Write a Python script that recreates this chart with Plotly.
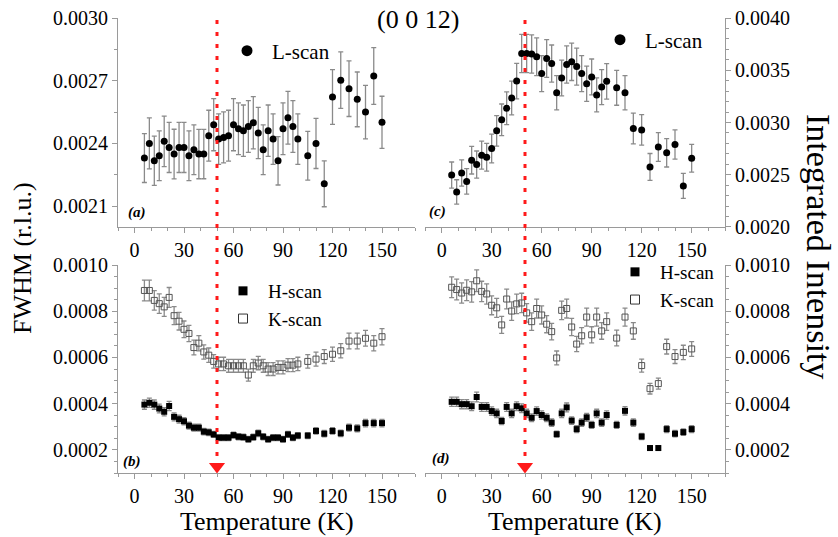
import plotly.graph_objects as go

# ---------------- data ----------------
T = [6, 9, 12, 15, 18, 21, 24, 27, 30, 33, 36, 39, 42, 45, 48, 51, 54, 57, 60, 63, 66,
     69, 72, 75, 78, 81, 84, 87, 90, 93, 96, 99, 105, 110, 115, 120, 125, 130, 135, 140, 145, 150]

fwhm_L = [0.002330, 0.002400, 0.002317, 0.002341, 0.002410, 0.002381, 0.002349, 0.002381, 0.002381,
          0.002341, 0.002370, 0.002349, 0.002349, 0.002437, 0.002490, 0.002421, 0.002429, 0.002437,
          0.002490, 0.002470, 0.002461, 0.002481, 0.002499, 0.002450, 0.002370, 0.002461, 0.002421,
          0.002317, 0.002470, 0.002523, 0.002481, 0.002421, 0.002341, 0.002400, 0.002207, 0.002622,
          0.002703, 0.002662, 0.002611, 0.002550, 0.002723, 0.002501]
fwhm_L_err = [0.000117, 0.000122, 0.000118, 0.000119, 0.000121, 0.000120, 0.000119, 0.000120, 0.000120,
              0.000119, 0.000119, 0.000118, 0.000118, 0.000122, 0.000125, 0.000121, 0.000122, 0.000122,
              0.000125, 0.000124, 0.000123, 0.000124, 0.000125, 0.000123, 0.000119, 0.000123, 0.000121,
              0.000116, 0.000124, 0.000126, 0.000124, 0.000121, 0.000117, 0.000120, 0.000110, 0.000131,
              0.000135, 0.000133, 0.000131, 0.000128, 0.000136, 0.000125]

int_L = [0.002497, 0.002335, 0.002516, 0.002436, 0.002639, 0.002597, 0.002687, 0.002668, 0.002751,
         0.002920, 0.003026, 0.003136, 0.003235, 0.003397, 0.003661, 0.003661, 0.003655, 0.003629,
         0.003468, 0.003613, 0.003564, 0.003284, 0.003426, 0.003555, 0.003581, 0.003535, 0.003468,
         0.003371, 0.003436, 0.003264, 0.003339, 0.003394, 0.003332, 0.003284, 0.002942, 0.002929,
         0.002574, 0.002765, 0.002710, 0.002790, 0.002393, 0.002658]
int_L_err = [0.000125, 0.000117, 0.000126, 0.000122, 0.000132, 0.000130, 0.000134, 0.000133, 0.000138,
             0.000146, 0.000151, 0.000157, 0.000162, 0.000170, 0.000183, 0.000183, 0.000183, 0.000181,
             0.000173, 0.000181, 0.000178, 0.000164, 0.000171, 0.000178, 0.000179, 0.000177, 0.000173,
             0.000169, 0.000172, 0.000163, 0.000167, 0.000170, 0.000167, 0.000164, 0.000147, 0.000146,
             0.000129, 0.000138, 0.000136, 0.000140, 0.000120, 0.000133]

fwhm_K = [0.000890, 0.000890, 0.000847, 0.000833, 0.000819, 0.000860, 0.000781, 0.000757, 0.000722,
          0.000704, 0.000643, 0.000662, 0.000624, 0.000610, 0.000583, 0.000572, 0.000572, 0.000564,
          0.000564, 0.000564, 0.000564, 0.000524, 0.000564, 0.000576, 0.000564, 0.000550, 0.000550,
          0.000557, 0.000557, 0.000567, 0.000567, 0.000572, 0.000583, 0.000593, 0.000604, 0.000614,
          0.000629, 0.000671, 0.000671, 0.000683, 0.000662, 0.000690]
fwhm_K_err = [0.000045, 0.000045, 0.000042, 0.000042, 0.000041, 0.000043, 0.000039, 0.000038, 0.000036,
              0.000035, 0.000032, 0.000033, 0.000031, 0.000031, 0.000029, 0.000029, 0.000029, 0.000028,
              0.000028, 0.000028, 0.000028, 0.000026, 0.000028, 0.000029, 0.000028, 0.000028, 0.000028,
              0.000028, 0.000028, 0.000028, 0.000028, 0.000029, 0.000029, 0.000030, 0.000030, 0.000031,
              0.000031, 0.000034, 0.000034, 0.000034, 0.000033, 0.000035]

fwhm_H = [0.000396, 0.000404, 0.000396, 0.000379, 0.000365, 0.000390, 0.000343, 0.000333, 0.000324,
          0.000305, 0.000296, 0.000296, 0.000279, 0.000276, 0.000267, 0.000253, 0.000253, 0.000253,
          0.000264, 0.000257, 0.000255, 0.000246, 0.000255, 0.000272, 0.000257, 0.000246, 0.000253,
          0.000253, 0.000246, 0.000267, 0.000253, 0.000262, 0.000262, 0.000282, 0.000270, 0.000282,
          0.000272, 0.000296, 0.000293, 0.000316, 0.000316, 0.000316]
fwhm_H_err = [0.000020, 0.000020, 0.000020, 0.000019, 0.000018, 0.000020, 0.000017, 0.000017, 0.000016,
              0.000015, 0.000015, 0.000015, 0.000014, 0.000014, 0.000013, 0.000013, 0.000013, 0.000013,
              0.000013, 0.000013, 0.000013, 0.000012, 0.000013, 0.000014, 0.000013, 0.000012, 0.000013,
              0.000013, 0.000012, 0.000013, 0.000013, 0.000013, 0.000013, 0.000014, 0.000014, 0.000014,
              0.000014, 0.000015, 0.000015, 0.000016, 0.000016, 0.000016]

int_K = [0.000904, 0.000894, 0.000879, 0.000891, 0.000884, 0.000932, 0.000886, 0.000875, 0.000826,
         0.000815, 0.000741, 0.000853, 0.000801, 0.000832, 0.000836, 0.000793, 0.000755, 0.000812,
         0.000784, 0.000744, 0.000712, 0.000598, 0.000804, 0.000812, 0.000732, 0.000658, 0.000694,
         0.000775, 0.000698, 0.000775, 0.000715, 0.000755, 0.000684, 0.000775, 0.000715, 0.000565,
         0.000465, 0.000487, 0.000647, 0.000604, 0.000622, 0.000637]
int_K_err = [0.000045, 0.000045, 0.000044, 0.000045, 0.000044, 0.000047, 0.000044, 0.000044, 0.000041,
             0.000041, 0.000037, 0.000043, 0.000040, 0.000042, 0.000042, 0.000040, 0.000038, 0.000041,
             0.000039, 0.000037, 0.000036, 0.000030, 0.000040, 0.000041, 0.000037, 0.000033, 0.000035,
             0.000039, 0.000035, 0.000039, 0.000036, 0.000038, 0.000034, 0.000039, 0.000036, 0.000028,
             0.000023, 0.000024, 0.000032, 0.000030, 0.000031, 0.000032]

int_H = [0.000408, 0.000408, 0.000398, 0.000398, 0.000389, 0.000429, 0.000386, 0.000386, 0.000368,
         0.000358, 0.000325, 0.000386, 0.000358, 0.000389, 0.000380, 0.000358, 0.000339, 0.000368,
         0.000351, 0.000339, 0.000318, 0.000268, 0.000358, 0.000384, 0.000327, 0.000290, 0.000318,
         0.000341, 0.000308, 0.000358, 0.000318, 0.000351, 0.000308, 0.000369, 0.000318, 0.000258,
         0.000208, 0.000208, 0.000290, 0.000270, 0.000277, 0.000290]
int_H_err = [0.000020, 0.000020, 0.000020, 0.000020, 0.000019, 0.000021, 0.000019, 0.000019, 0.000018,
             0.000018, 0.000016, 0.000019, 0.000018, 0.000019, 0.000019, 0.000018, 0.000017, 0.000018,
             0.000018, 0.000017, 0.000016, 0.000013, 0.000018, 0.000019, 0.000016, 0.000015, 0.000016,
             0.000017, 0.000015, 0.000018, 0.000016, 0.000018, 0.000015, 0.000018, 0.000016, 0.000013,
             0.000010, 0.000010, 0.000015, 0.000014, 0.000014, 0.000015]

T_N = 50            # transition temperature marked by red dotted line
ARROW_Y = 0.000128  # arrow head position on lower panels

X_TICKS = [0, 30, 60, 90, 120, 150]

# ---------------- figure ----------------
W, H = 838, 537
FONT = "Liberation Serif"
GREY = "#9a9a9a"
ERRC = "#8a8a8a"
RED = "#ff1a1a"


def px(v):
    return v / W


def py(v):
    return 1 - v / H


def err(arr):
    return dict(type="data", array=arr, color=ERRC, thickness=1.3, width=2.5)


fig = go.Figure()

# (a) FWHM L-scan
fig.add_trace(go.Scatter(x=T, y=fwhm_L, error_y=err(fwhm_L_err), mode="markers",
                         marker=dict(symbol="circle", size=7, color="black"),
                         xaxis="x", yaxis="y", showlegend=False))
fig.add_trace(go.Scatter(x=[None], y=[None], mode="markers", name="L-scan",
                         marker=dict(symbol="circle", size=11, color="black"),
                         xaxis="x", yaxis="y", legend="legend"))
# (c) Intensity L-scan
fig.add_trace(go.Scatter(x=T, y=int_L, error_y=err(int_L_err), mode="markers",
                         marker=dict(symbol="circle", size=7, color="black"),
                         xaxis="x2", yaxis="y2", showlegend=False))
fig.add_trace(go.Scatter(x=[None], y=[None], mode="markers", name="L-scan",
                         marker=dict(symbol="circle", size=11, color="black"),
                         xaxis="x2", yaxis="y2", legend="legend2"))
# (b) FWHM H and K
fig.add_trace(go.Scatter(x=T, y=fwhm_K, error_y=err(fwhm_K_err), mode="markers",
                         marker=dict(symbol="square-open", size=6, color="#555555",
                                     line=dict(width=1)),
                         xaxis="x3", yaxis="y3", showlegend=False))
fig.add_trace(go.Scatter(x=T, y=fwhm_H, error_y=err(fwhm_H_err), mode="markers",
                         marker=dict(symbol="square", size=6, color="black"),
                         xaxis="x3", yaxis="y3", showlegend=False))
fig.add_trace(go.Scatter(x=[None], y=[None], mode="markers", name="H-scan",
                         marker=dict(symbol="square", size=9, color="black"),
                         xaxis="x3", yaxis="y3", legend="legend3"))
fig.add_trace(go.Scatter(x=[None], y=[None], mode="markers", name="K-scan",
                         marker=dict(symbol="square-open", size=9, color="#333333",
                                     line=dict(width=1)),
                         xaxis="x3", yaxis="y3", legend="legend3"))
# (d) Intensity H and K
fig.add_trace(go.Scatter(x=T, y=int_K, error_y=err(int_K_err), mode="markers",
                         marker=dict(symbol="square-open", size=6, color="#555555",
                                     line=dict(width=1)),
                         xaxis="x4", yaxis="y4", showlegend=False))
fig.add_trace(go.Scatter(x=T, y=int_H, error_y=err(int_H_err), mode="markers",
                         marker=dict(symbol="square", size=6, color="black"),
                         xaxis="x4", yaxis="y4", showlegend=False))
fig.add_trace(go.Scatter(x=[None], y=[None], mode="markers", name="H-scan",
                         marker=dict(symbol="square", size=9, color="black"),
                         xaxis="x4", yaxis="y4", legend="legend4"))
fig.add_trace(go.Scatter(x=[None], y=[None], mode="markers", name="K-scan",
                         marker=dict(symbol="square-open", size=9, color="#333333",
                                     line=dict(width=1)),
                         xaxis="x4", yaxis="y4", legend="legend4"))

# red arrow heads
for xa, ya in (("x3", "y3"), ("x4", "y4")):
    fig.add_trace(go.Scatter(x=[T_N], y=[ARROW_Y], mode="markers", cliponaxis=False,
                             marker=dict(symbol="triangle-down", size=14, color=RED),
                             xaxis=xa, yaxis=ya, showlegend=False))

tickfont = dict(family=FONT, size=20, color="black")
base = dict(showline=True, linecolor=GREY, linewidth=1, ticks="outside", tickcolor=GREY,
            ticklen=5, tickwidth=1, showgrid=False, zeroline=False, tickfont=tickfont,
            fixedrange=True, automargin=False)

xdom_L = [px(118), px(415)]
xdom_R = [px(425), px(725)]
ydom_T = [py(227), py(18)]
ydom_B = [py(473), py(265)]

xcommon = dict(base, range=[-10, 170], tickmode="array", tickvals=X_TICKS,
               minor=dict(dtick=10, tick0=0, ticks="outside", ticklen=3, tickcolor=GREY, showgrid=False))

fig.update_layout(
    width=W, height=H, margin=dict(l=0, r=0, t=0, b=0, pad=0, autoexpand=False),
    paper_bgcolor="white", plot_bgcolor="white",
    font=dict(family=FONT, color="black"),
    xaxis=dict(xcommon, domain=xdom_L, anchor="y"),
    xaxis2=dict(xcommon, domain=xdom_R, anchor="y2"),
    xaxis3=dict(xcommon, domain=xdom_L, anchor="y3"),
    xaxis4=dict(xcommon, domain=xdom_R, anchor="y4"),
    yaxis=dict(base, domain=ydom_T, anchor="x", side="left", range=[0.0020, 0.0030005],
               tick0=0.0021, dtick=0.0003, tickformat=".4f",
               minor=dict(tick0=0.0021, dtick=0.00015, ticks="outside", ticklen=3, tickcolor=GREY, showgrid=False)),
    yaxis2=dict(base, domain=ydom_T, anchor="x2", side="right", range=[0.0019995, 0.0040005],
                tick0=0.0020, dtick=0.0005, tickformat=".4f",
                minor=dict(tick0=0.0020, dtick=0.0001, ticks="outside", ticklen=3, tickcolor=GREY, showgrid=False)),
    yaxis3=dict(base, domain=ydom_B, anchor="x3", side="left", range=[0.0001, 0.0010003],
                tick0=0.0002, dtick=0.0002, tickformat=".4f",
                minor=dict(tick0=0.0002, dtick=0.00005, ticks="outside", ticklen=3, tickcolor=GREY, showgrid=False)),
    yaxis4=dict(base, domain=ydom_B, anchor="x4", side="right", range=[0.0001, 0.0010003],
                tick0=0.0002, dtick=0.0002, tickformat=".4f",
                minor=dict(tick0=0.0002, dtick=0.00005, ticks="outside", ticklen=3, tickcolor=GREY, showgrid=False)),
)

leg = dict(bgcolor="rgba(0,0,0,0)", borderwidth=0, itemwidth=40, xanchor="left", yanchor="middle",
           tracegroupgap=0, itemclick=False, itemdoubleclick=False)
fig.update_layout(
    legend=dict(leg, x=px(222), y=py(51), font=dict(family=FONT, size=21, color="black")),
    legend2=dict(leg, x=px(595), y=py(40), font=dict(family=FONT, size=21, color="black")),
    legend3=dict(leg, x=px(218), y=py(305), font=dict(family=FONT, size=19, color="black")),
    legend4=dict(leg, x=px(610), y=py(286), font=dict(family=FONT, size=19, color="black")),
)

# red dotted vertical lines
for xr in ("x", "x2"):
    fig.add_shape(type="line", xref=xr, yref="paper", x0=T_N, x1=T_N, y0=py(20), y1=py(460),
                  line=dict(color=RED, width=3, dash="4px,8px"))


def note(text, x, y, size, angle=0):
    return dict(text=text, x=px(x), y=py(y), xref="paper", yref="paper", xanchor="center",
                yanchor="middle", textangle=angle, showarrow=False,
                font=dict(family=FONT, size=size, color="black"))


ann = [note("(0 0 12)", 418, 19, 26)]
for t, xx, yy in (("(a)", 137, 213), ("(c)", 437, 211), ("(b)", 132, 461), ("(d)", 441, 458)):
    ann.append(note("<b><i>" + t + "</i></b>", xx, yy, 15))
for xx in ((118 + 415) / 2, (425 + 725) / 2):
    ann.append(note("Temperature (K)", xx, 521, 26))
ann.append(note("FWHM (r.l.u.)", 22, 258, 26, -90))
ann.append(note("Integrated Intensity", 819, 246, 34, 90))
fig.update_layout(annotations=ann)

fig.write_html("out.html")
